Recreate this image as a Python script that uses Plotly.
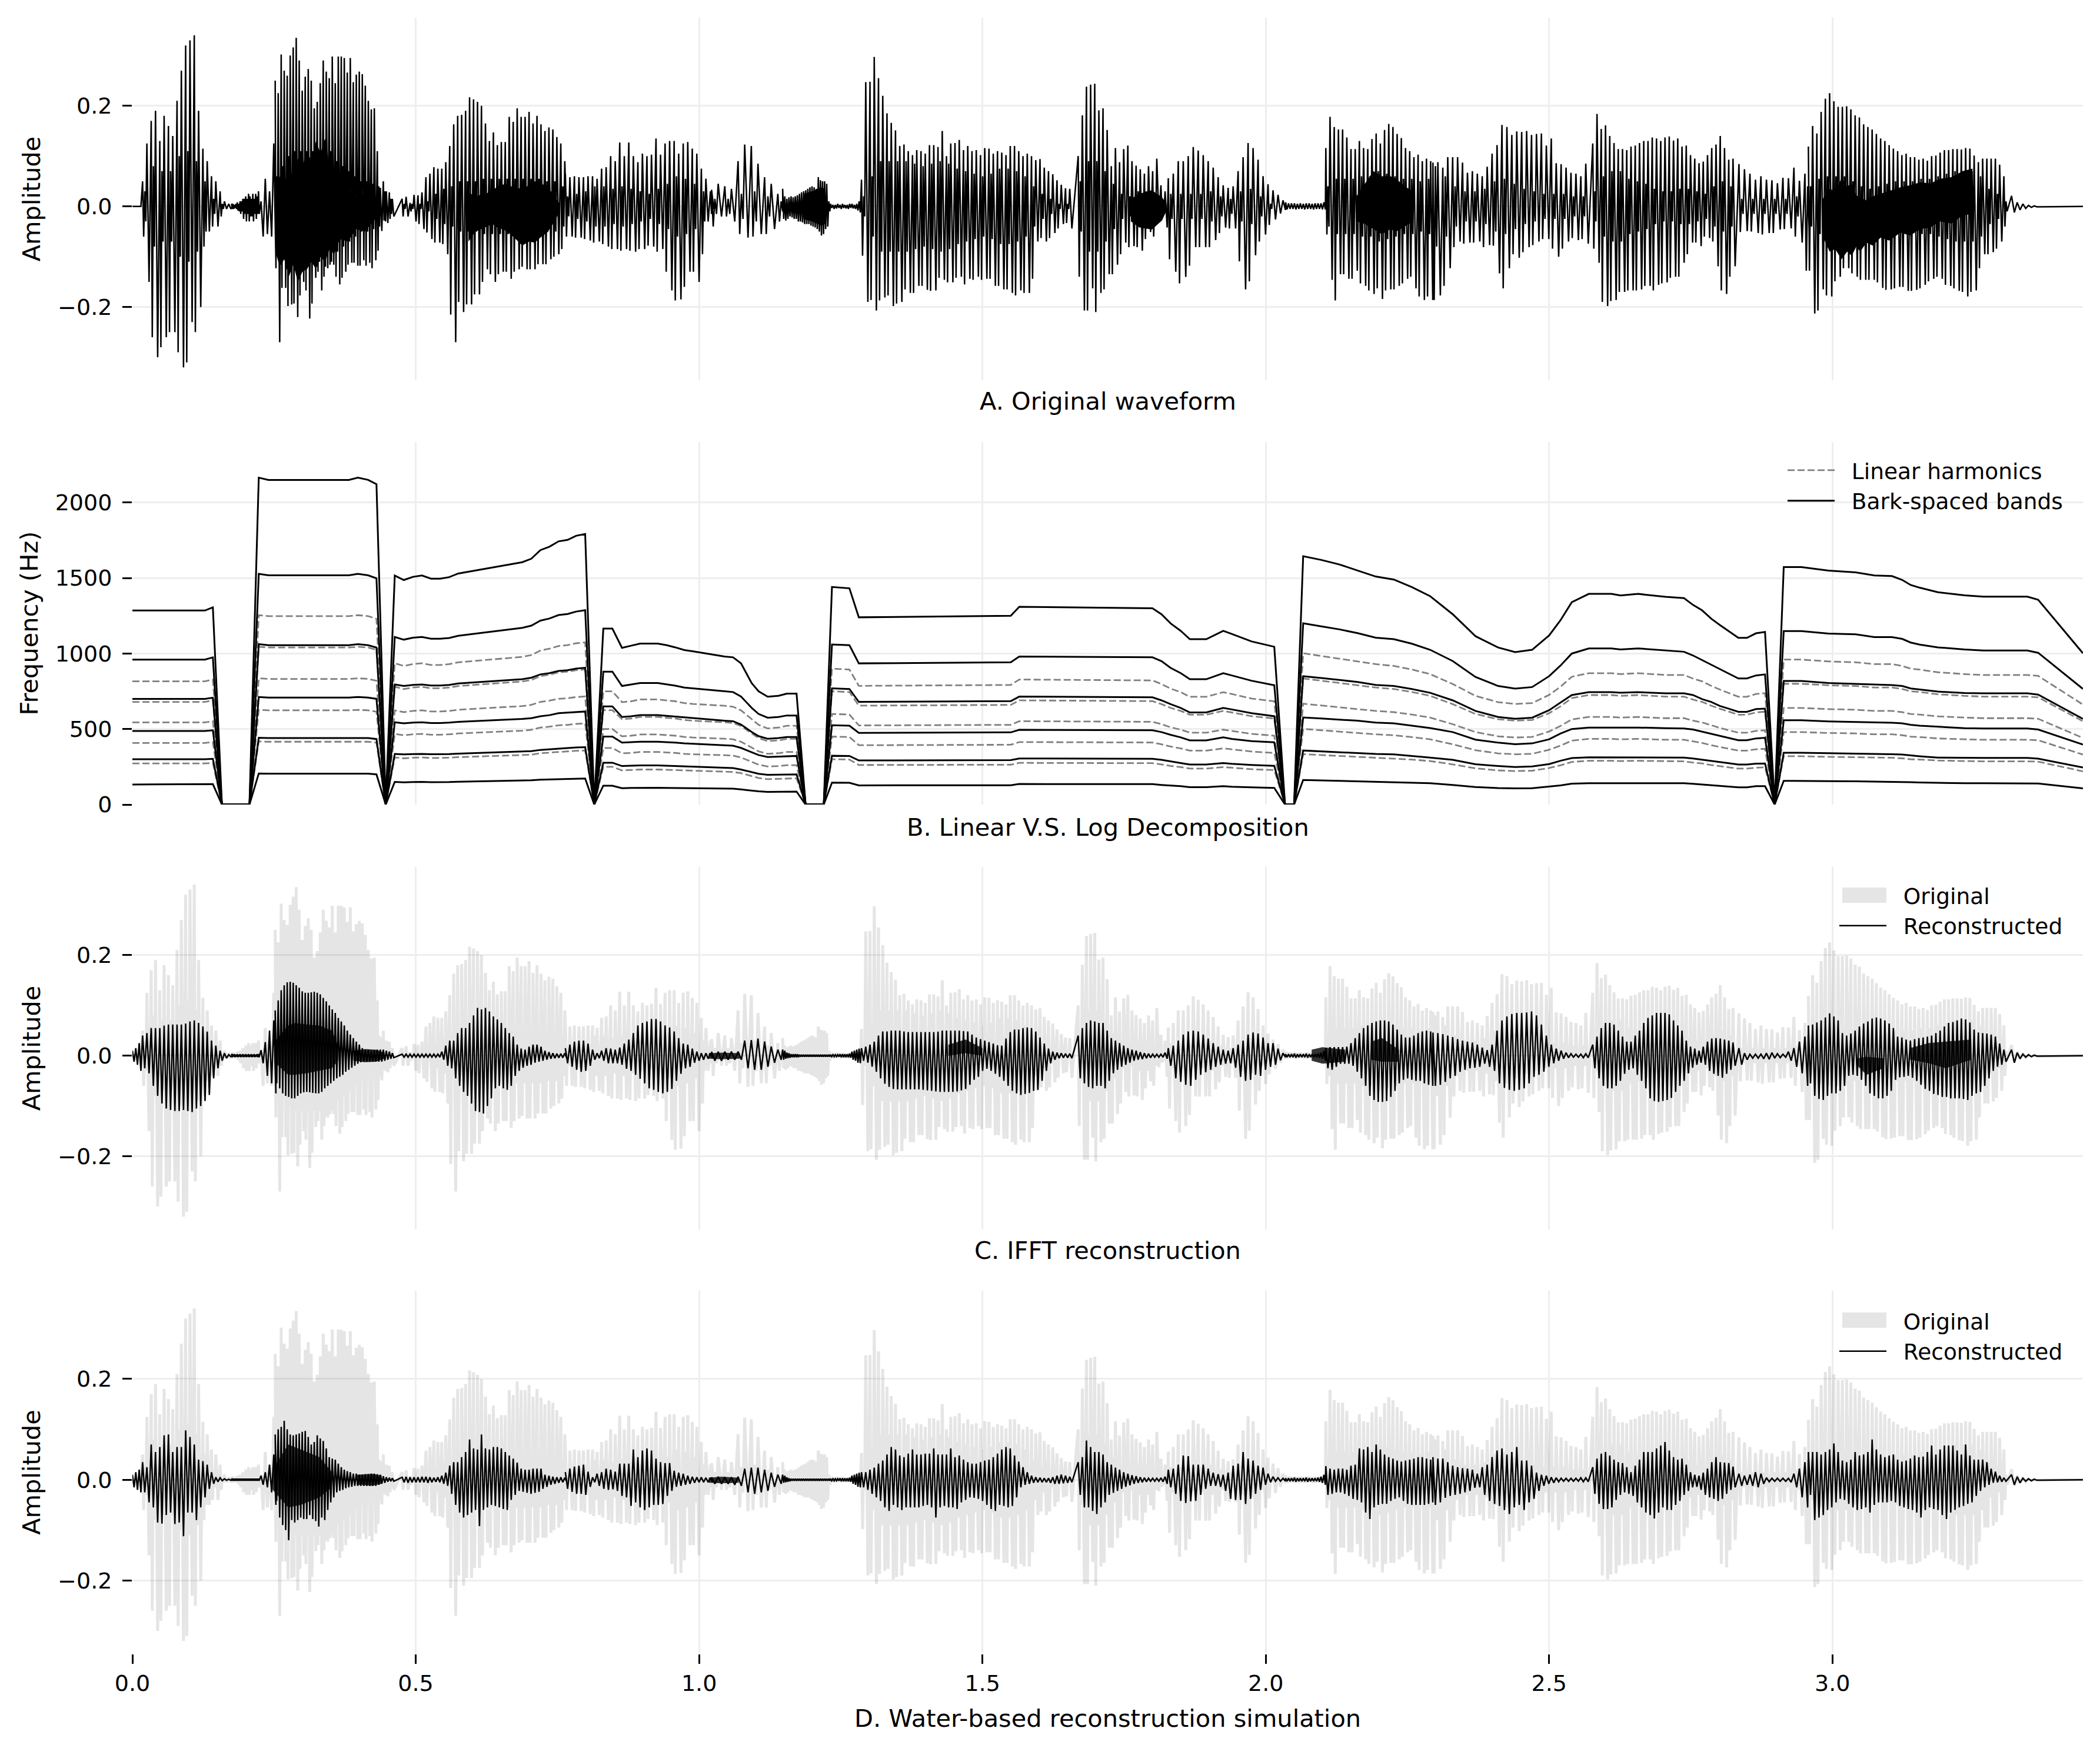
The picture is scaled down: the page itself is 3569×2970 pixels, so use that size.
import plotly.graph_objects as go

# time base of the voiced stretches, one (start, period) per stretch
burst_start = [0, .018, .175, .227, .252, .476, .764, 1.022, 1.1475, 1.232, 1.2866, 1.669, 1.828, 2.035, 2.106, 2.295, 2.577, 2.835, 2.9575, 3.316]
burst_step = [.006, .0076, .0025, .0075, .0053, .007, .008, .0117, .0037, .0042, .0075, .0073, .0088, .0052, .0074, .0087, .0075, .0097, .0075, .01]

# amplitudes, in thousandths
a_top = [
    [0, 0, 0],
    [50, 125, 170, 190, 130, 180, 160, 140, 210, 270, 320, 330, 340, 190, 115, 90, 60, 50, 30, 10, 5, 3],
    [5, 5, 3, 5, 8, 5, 10, 10, 15, 15, 20, 15, 25, 20, 15, 25, 15, 25, 20, 30],
    [10, 55, 30, 125],
    [250, 225, 302, 270, 260, 300, 316, 335, 290, 230, 258, 273, 250, 195, 208, 245, 290, 268, 255, 298, 245, 298, 298, 295, 266, 295, 247, 262, 268, 263, 240, 210, 193, 195, 110, 37, 50, 30, 28, 15],
    [15, 19, 7, 23, 22, 28, 58, 65, 78, 75, 75, 88, 120, 163, 180, 182, 190, 217, 213, 208, 200, 165, 130, 147, 122, 128, 128, 178, 168, 195, 178, 178, 188, 165, 180, 163, 150, 157, 153, 138, 125, 90],
    [65, 58, 60, 58, 58, 60, 60, 55, 75, 78, 100, 90, 127, 100, 127, 100, 88, 105, 100, 103, 135, 103, 125, 130, 130, 105, 125, 128, 115, 105, 75, 55, 30],
    [33, 45, 40, 35, 90, 123, 120, 85, 58, 45, 25],
    [35, 20, 15, 18, 20, 18, 20, 22, 25, 28, 30, 32, 35, 38, 40, 38, 35, 58, 52, 50, 50, 45, 10],
    [5, 3, 3, 5, 3, 5, 3, 3, 5, 5, 3, 5, 10],
    [53, 247, 248, 297, 255, 220, 185, 166, 151, 120, 123, 110, 102, 112, 110, 105, 122, 122, 118, 150, 100, 125, 126, 132, 112, 120, 110, 112, 102, 116, 115, 105, 110, 107, 102, 120, 120, 110, 100, 105, 100, 92, 94, 77, 70, 64, 52, 43, 36, 35],
    [100, 181, 238, 242, 244, 191, 195, 152, 80, 116, 88, 114, 121, 90, 81, 74, 65, 80, 70, 95, 42, 30],
    [56, 65, 90, 90, 100, 118, 111, 102, 90, 77, 58, 42, 37, 40, 70, 98, 126, 116, 93, 60, 44, 32, 23, 12],
    [8, 6, 6, 6, 5, 6, 5, 6, 6, 5, 6, 6, 6, 8],
    [116, 178, 158, 153, 153, 137, 114, 114, 130, 116, 114, 134, 145, 125, 152, 164, 158, 144, 136, 116, 110, 98, 103, 90, 95, 90],
    [87, 88, 77, 98, 98, 98, 87, 67, 70, 65, 60, 79, 105, 122, 162, 158, 142, 149, 148, 150, 142, 144, 145, 121, 135, 86, 84, 77, 67, 65, 60, 85],
    [125, 184, 154, 161, 140, 126, 114, 114, 112, 119, 121, 126, 130, 130, 137, 135, 130, 137, 139, 131, 135, 119, 121, 102, 95, 86, 89, 102, 116, 123, 140, 116, 93, 95],
    [84, 74, 65, 53, 60, 53, 52, 46, 57, 56, 77, 51, 65],
    [119, 160, 145, 188, 214, 225, 209, 198, 198, 199, 193, 181, 177, 163, 158, 153, 144, 135, 130, 122, 115, 110, 102, 105, 98, 98, 93, 95, 91, 100, 101, 107, 112, 112, 114, 114, 113, 116, 115, 101, 88, 95, 95, 95, 95, 83, 60],
    [21, 8, 5, 2, 1],
]
a_bot = [
    [0, 0, 0],
    [-60, -150, -260, -300, -280, -260, -250, -250, -290, -320, -310, -230, -250, -200, -80, -50, -40, -40, -20, -5, -5, -3],
    [-5, -5, -3, -5, -8, -10, -15, -10, -25, -15, -30, -15, -30, -20, -20, -30, -15, -25, -15, -15],
    [-60, -55, -60, -110],
    [-123, -270, -162, -162, -198, -195, -193, -220, -177, -150, -167, -223, -193, -142, -130, -167, -140, -123, -116, -116, -140, -155, -142, -130, -116, -112, -112, -118, -118, -107, -118, -112, -123, -107, -88, -49, -28, -33, -25, -20],
    [-20, -20, -10, -30, -35, -45, -52, -65, -72, -72, -75, -95, -215, -270, -190, -210, -195, -195, -175, -175, -150, -125, -135, -150, -135, -130, -130, -144, -130, -125, -120, -125, -125, -125, -115, -115, -115, -105, -100, -95, -85, -40],
    [-60, -60, -62, -62, -65, -68, -72, -70, -75, -80, -85, -85, -88, -85, -88, -90, -85, -85, -78, -80, -90, -85, -130, -167, -187, -185, -160, -130, -130, -150, -95, -30, -15],
    [-40, -20, -20, -30, -55, -62, -60, -55, -55, -45, -30],
    [-25, -28, -25, -20, -22, -25, -25, -30, -30, -32, -35, -35, -35, -38, -40, -42, -45, -50, -58, -55, -45, -40, -10],
    [-3, -5, -4, -3, -5, -3, -4, -5, -3, -4, -5, -8, -12],
    [-98, -190, -186, -207, -187, -181, -177, -198, -193, -190, -165, -172, -172, -158, -158, -166, -168, -167, -142, -146, -151, -151, -142, -140, -155, -144, -146, -140, -146, -144, -144, -158, -158, -165, -165, -172, -177, -167, -172, -172, -144, -70, -63, -70, -63, -53, -44, -35, -33, -44],
    [-140, -207, -207, -163, -210, -172, -165, -135, -135, -116, -95, -72, -81, -79, -81, -88, -65, -51, -60, -23, -14, -42],
    [-105, -130, -153, -140, -118, -81, -81, -81, -81, -67, -53, -42, -44, -44, -109, -165, -149, -97, -70, -56, -37, -26, -14, -7],
    [-6, -5, -5, -6, -5, -5, -6, -5, -5, -6, -5, -5, -6, -6],
    [-56, -146, -187, -135, -135, -144, -144, -128, -153, -158, -167, -174, -163, -184, -167, -165, -165, -158, -153, -144, -140, -163, -179, -186, -179, -186],
    [-186, -177, -158, -123, -81, -70, -74, -72, -72, -70, -81, -77, -78, -133, -163, -123, -95, -102, -91, -81, -77, -70, -65, -65, -84, -100, -84, -70, -63, -67, -65, -74],
    [-84, -112, -190, -198, -188, -186, -170, -170, -167, -167, -167, -165, -158, -158, -167, -156, -153, -151, -142, -140, -140, -112, -95, -72, -72, -79, -60, -63, -70, -119, -167, -174, -140, -119],
    [-51, -49, -50, -53, -56, -53, -53, -46, -45, -44, -60, -72, -128],
    [-128, -213, -207, -165, -177, -179, -149, -140, -123, -123, -133, -140, -146, -146, -146, -146, -151, -162, -166, -165, -163, -160, -160, -168, -168, -166, -163, -156, -149, -144, -140, -144, -156, -158, -163, -168, -170, -179, -170, -167, -123, -95, -95, -91, -84, -70, -40],
    [-12, -7, -4, -2, -1],
]
a_mid = [
    [],
    [30, 60, 80, 90, 70, 80, 70, 90, 100, 110, 110, 100, 90, 70, 50, 30, 15, 10, 5],
    [],
    [],
    [60, 70, 80, 90, 100, 110, 110, 110, 110, 110, 110, 110, 110, 110, 110, 120, 120, 120, 110, 100, 90, 90, 80, 80, 70, 70, 60, 60, 50, 50, 50, 50, 45, 40, 40, 35, 30, 25, 15, 10],
    [5, 5, 5, 5, 5, 5, 10, 20, 25, 30, 35, 40, 40, 45, 50, 50, 50, 50, 50, 55, 55, 55, 55, 55, 55, 55, 55, 55, 55, 55, 55, 55, 55, 55, 55, 50, 50, 50, 50, 45, 40, 15],
    [20, 20, 25, 30, 30, 35, 40, 40, 40, 40, 35, 35, 40, 30, 35, 30, 30, 25, 25, 30, 35, 35, 45, 50, 60, 60, 55, 50, 45, 40, 30, 15, 5],
    [15, 15, 15, 15, 25, 30, 30, 25, 20, 15, 10],
    [],
    [],
    [20, 40, 60, 80, 90, 90, 90, 85, 90, 90, 90, 90, 85, 85, 80, 85, 85, 85, 90, 90, 85, 80, 75, 75, 70, 65, 65, 60, 60, 60, 65, 70, 75, 75, 75, 75, 70, 65, 60, 55, 40, 30, 25, 20, 15, 10, 5, 5, 5, 5],
    [50, 80, 90, 95, 90, 80, 70, 60, 45, 30, 25, 20, 20, 25, 30, 30, 30, 25, 20, 15, 10, 10],
    [25, 25, 25, 25, 25, 25, 25, 30, 30, 25, 20, 15, 15, 15, 30, 35, 35, 30, 20, 10, 5],
    [],
    [40, 50, 55, 55, 55, 55, 55, 55, 60, 60, 60, 65, 70, 70, 65, 60, 60, 55, 55, 55, 55, 50, 50, 50, 55, 60],
    [80, 70, 60, 45, 40, 35, 30, 25, 30, 30, 35, 45, 50, 55, 55, 45, 45, 40, 35, 30, 30, 25, 25, 25, 25, 25, 25, 20, 20, 20, 20, 25],
    [30, 40, 60, 70, 70, 70, 70, 65, 55, 50, 50, 45, 45, 40, 35, 35, 30, 30, 30, 30, 35, 40, 35, 30, 30, 30, 25, 30, 40, 50, 50, 45, 40, 35],
    [15, 15, 15, 15, 15, 15, 15, 15, 15, 15, 20, 30, 40],
    [40, 50, 55, 60, 60, 60, 60, 60, 60, 55, 50, 45, 40, 35, 35, 35, 40, 40, 45, 45, 50, 50, 50, 50, 50, 55, 55, 55, 55, 55, 60, 60, 65, 65, 70, 70, 70, 70, 70, 75, 60, 40, 35, 30, 25, 15, 10],
    [],
]
# solid dark parts of each waveform: time, upper edge, lower edge
a_core_t = [[.2525, .26, .268, .276, .284, .292, .3, .308, .316, .324, .332, .34, .348, .356, .366, .38, .395, .41, .425, .435],
            [.593, .605, .622, .635, .644, .659, .672, .688, .7, .71, .722, .732, .745, .754],
            [1.184, 1.2, 1.215, 1.223],
            [1.762, 1.777, 1.799, 1.817, 1.825],
            [2.16, 2.175, 2.19, 2.205, 2.22, 2.23, 2.245, 2.26],
            [2.983, 2.995, 3.005, 3.016, 3.026, 3.034, 3.042, 3.049, 3.06, 3.071, 3.085, 3.1, 3.12, 3.137, 3.155, 3.173, 3.19, 3.21, 3.23, 3.247]]
a_core_top = [[30, 60, 45, 75, 60, 95, 80, 110, 90, 130, 105, 135, 80, 45, 30, 35, 20, 25, 10, 12],
              [28, 20, 25, 30, 40, 45, 38, 35, 42, 50, 45, 40, 20, 5],
              [25, 30, 38, 35],
              [15, 25, 32, 18, 5],
              [20, 45, 70, 60, 60, 55, 40, 30],
              [15, 35, 30, 56, 40, 45, 22, 18, 12, 20, 25, 30, 38, 42, 48, 46, 55, 58, 70, 75]]
a_core_bot = [[-90, -120, -105, -140, -115, -150, -130, -125, -110, -125, -100, -110, -85, -95, -65, -70, -45, -50, -30, -20],
              [-70, -50, -42, -35, -42, -48, -60, -78, -70, -72, -60, -52, -30, -10],
              [-25, -30, -38, -35],
              [-30, -42, -46, -28, -8],
              [-30, -35, -45, -55, -45, -50, -40, -30],
              [-60, -90, -85, -105, -90, -98, -80, -90, -72, -78, -62, -68, -52, -58, -45, -42, -30, -34, -18, -15]]

c_top = [
    [10, 15, 25],
    [40, 45, 55, 55, 55, 60, 62, 62, 62, 62, 64, 68, 70, 65, 58, 48, 30, 20, 10, 5, 2, 1],
    [3, 2, 3, 2, 3, 2, 3, 2, 3, 2, 3, 2, 3, 2, 3, 2, 3, 2, 3, 3],
    [11, 27, 50, 70],
    [90, 110, 130, 140, 146, 147, 145, 140, 135, 128, 125, 125, 126, 127, 125, 122, 115, 108, 100, 92, 85, 75, 68, 60, 50, 42, 35, 28, 22, 15, 12, 12, 10, 11, 12, 12, 12, 10, 8, 5],
    [3, 3, 3, 3, 3, 3, 3, 3, 3, 3, 8, 20, 30, 30, 45, 55, 55, 65, 80, 95, 92, 95, 88, 78, 72, 65, 55, 45, 38, 22, 14, 12, 18, 22, 22, 18, 10, 7, 5, 4, 4, 5],
    [15, 22, 28, 30, 30, 24, 12, 5, 10, 15, 14, 12, 16, 24, 32, 45, 60, 65, 68, 73, 73, 68, 60, 56, 48, 35, 24, 22, 14, 8, 5, 5, 5],
    [8, 8, 8, 8, 8, 30, 31, 34, 28, 18, 12],
    [12, 10, 6, 5, 3, 3, 3, 3, 2, 2, 2, 2, 2, 2, 2, 2, 2, 2, 2, 2, 2, 2, 2],
    [2, 2, 2, 2, 3, 3, 3, 3, 4, 8, 10, 12, 14],
    [15, 18, 22, 28, 40, 48, 48, 50, 50, 50, 48, 47, 47, 47, 47, 47, 47, 47, 48, 50, 50, 50, 50, 50, 49, 48, 42, 36, 33, 30, 27, 24, 21, 20, 34, 47, 52, 52, 55, 56, 55, 48, 36, 24, 14, 8, 6, 5, 4, 4],
    [40, 55, 65, 70, 68, 65, 65, 50, 35, 30, 25, 20, 15, 12, 10, 7, 5, 4, 3, 3, 3, 6],
    [15, 20, 30, 42, 48, 50, 48, 42, 34, 25, 18, 12, 10, 15, 22, 30, 42, 46, 44, 36, 25, 25, 14, 5],
    [3, 3, 3, 4, 3, 3, 3, 4, 3, 3, 3, 4, 6, 10],
    [15, 17, 17, 17, 17, 18, 25, 35, 45, 55, 60, 65, 68, 70, 70, 68, 62, 52, 42, 36, 36, 40, 45, 48, 50, 48],
    [46, 45, 43, 40, 37, 33, 30, 28, 26, 22, 16, 11, 22, 50, 70, 78, 83, 85, 85, 86, 88, 80, 62, 40, 22, 14, 10, 6, 4, 3, 3, 4],
    [22, 38, 55, 65, 65, 62, 50, 38, 28, 28, 40, 50, 65, 75, 80, 85, 85, 85, 82, 70, 60, 50, 30, 18, 14, 10, 18, 28, 34, 35, 34, 32, 30, 26],
    [15, 5, 3, 3, 3, 5, 6, 4, 3, 8, 15, 28, 38],
    [60, 62, 66, 70, 76, 84, 78, 70, 45, 40, 44, 50, 58, 64, 68, 74, 76, 74, 70, 64, 55, 38, 36, 32, 30, 33, 35, 36, 38, 40, 45, 50, 58, 65, 67, 70, 74, 72, 66, 52, 46, 45, 44, 42, 38, 24, 12],
    [12, 6, 3, 2, 1],
]
c_bot = [
    [-12, -18, -30],
    [-25, -35, -60, -80, -95, -105, -108, -110, -110, -108, -110, -112, -105, -100, -90, -78, -45, -25, -10, -5, -2, -1],
    [-3, -2, -3, -2, -3, -2, -3, -2, -3, -2, -3, -2, -3, -2, -3, -2, -3, -2, -3, -3],
    [-15, -40, -55, -75],
    [-55, -65, -75, -80, -82, -85, -85, -80, -75, -73, -72, -73, -74, -75, -75, -72, -65, -60, -55, -50, -45, -42, -38, -32, -28, -24, -20, -16, -13, -12, -12, -12, -12, -12, -12, -12, -10, -8, -6, -4],
    [-3, -3, -3, -3, -3, -3, -3, -3, -3, -3, -8, -20, -25, -45, -60, -72, -80, -95, -110, -112, -115, -100, -85, -65, -60, -65, -68, -60, -40, -30, -24, -20, -18, -14, -12, -10, -8, -6, -5, -4, -4, -5],
    [-15, -22, -28, -32, -30, -20, -8, -5, -10, -15, -15, -15, -18, -26, -30, -38, -46, -55, -65, -68, -72, -75, -72, -66, -50, -36, -25, -22, -14, -10, -8, -6, -5],
    [-10, -10, -8, -8, -8, -25, -28, -28, -22, -14, -8],
    [-8, -6, -5, -4, -3, -3, -3, -3, -2, -2, -2, -2, -2, -2, -2, -2, -2, -2, -2, -2, -2, -2, -2],
    [-2, -2, -2, -2, -3, -3, -3, -3, -4, -8, -10, -14, -15],
    [-10, -14, -22, -32, -45, -56, -62, -66, -67, -67, -67, -67, -67, -67, -68, -69, -70, -71, -72, -72, -72, -72, -71, -69, -66, -58, -48, -42, -30, -26, -30, -36, -42, -50, -60, -70, -75, -78, -76, -74, -70, -68, -50, -30, -15, -8, -5, -4, -4, -5],
    [-45, -55, -62, -65, -60, -60, -65, -50, -35, -28, -22, -18, -14, -10, -8, -7, -5, -4, -3, -3, -3, -6],
    [-20, -45, -52, -58, -60, -48, -38, -33, -28, -22, -18, -16, -15, -24, -42, -50, -48, -38, -40, -28, -22, -18, -9, -3],
    [-3, -3, -3, -4, -3, -3, -3, -4, -3, -3, -3, -4, -6, -10],
    [-25, -28, -22, -16, -16, -16, -20, -32, -45, -60, -80, -88, -92, -92, -90, -82, -70, -55, -48, -45, -48, -50, -50, -55, -58, -60],
    [-60, -58, -52, -45, -40, -32, -28, -25, -24, -22, -16, -22, -30, -55, -64, -68, -70, -68, -65, -55, -42, -38, -32, -22, -15, -10, -6, -4, -3, -3, -4, -4],
    [-25, -45, -60, -65, -65, -60, -50, -36, -28, -25, -38, -50, -65, -85, -90, -92, -90, -88, -84, -72, -60, -50, -35, -24, -18, -14, -18, -30, -36, -40, -44, -36, -28, -20],
    [-18, -8, -5, -5, -6, -7, -5, -4, -3, -10, -22, -35, -60],
    [-55, -80, -86, -88, -80, -75, -75, -70, -60, -40, -38, -40, -48, -60, -75, -80, -85, -85, -80, -70, -48, -43, -42, -40, -44, -50, -58, -66, -70, -76, -78, -82, -82, -85, -85, -85, -86, -88, -80, -75, -72, -60, -45, -30, -22, -18, -12],
    [-14, -6, -3, -2, -1],
]
c_core_t = [[.253, .275, .286, .308, .33, .352, .363], [.39, .41, .43, .445], [1.017, 1.04, 1.072], [1.44, 1.47, 1.5], [2.081, 2.1, 2.14], [2.186, 2.205, 2.235], [3.044, 3.06, 3.09], [3.137, 3.17, 3.2, 3.245]]
c_core_top = [[30, 60, 65, 62, 60, 50, 20], [10, 13, 12, 6], [5, 6, 5], [22, 32, 15], [12, 17, 12], [28, 35, 12], [-5, -2, -5], [15, 25, 28, 32]]
c_core_bot = [[-15, -38, -38, -35, -30, -25, -10], [-10, -13, -12, -6], [-6, -7, -6], [0, 5, 0], [-10, -16, -12], [-8, -12, -12], [-20, -38, -25], [-8, -15, -25, -8]]

d_top = [
    [10, 15, 20],
    [35, 25, 70, 55, 65, 88, 90, 55, 65, 65, 98, 85, 70, 40, 37, 30, 15, 5, 4, 2, 1, 1],
    [2, 2, 2, 2, 2, 2, 2, 2, 2, 2, 2, 2, 2, 2, 2, 2, 2, 2, 2, 2],
    [8, 15, 30, 50],
    [90, 100, 105, 117, 100, 90, 88, 90, 92, 95, 97, 85, 70, 75, 88, 82, 77, 62, 45, 42, 40, 32, 25, 20, 17, 15, 12, 12, 10, 10, 11, 11, 12, 12, 11, 10, 7, 5, 4, 3],
    [5, 6, 5, 5, 5, 6, 6, 5, 4, 5, 8, 14, 28, 35, 35, 45, 55, 80, 62, 60, 90, 62, 60, 65, 65, 62, 55, 48, 42, 34, 22, 20, 20, 22, 22, 22, 10, 8, 6, 5, 5, 4],
    [15, 22, 26, 28, 30, 16, 5, 12, 15, 22, 20, 16, 32, 32, 32, 60, 45, 58, 62, 58, 42, 35, 33, 33, 18, 14, 12, 8, 6, 5, 5, 4, 4],
    [5, 6, 5, 5, 6, 22, 24, 24, 20, 14, 10],
    [10, 8, 5, 3, 2, 2, 2, 2, 2, 2, 2, 2, 2, 2, 2, 2, 2, 2, 2, 2, 2, 2, 2],
    [2, 2, 2, 2, 3, 3, 3, 3, 4, 8, 10, 12, 14],
    [15, 15, 20, 24, 32, 38, 50, 65, 60, 48, 45, 52, 60, 50, 50, 52, 52, 62, 50, 50, 50, 62, 45, 48, 40, 35, 32, 32, 35, 38, 40, 45, 52, 60, 65, 62, 48, 36, 25, 15, 8, 5, 4, 3, 3, 5, 8, 10, 8, 6],
    [35, 45, 78, 65, 55, 55, 50, 35, 30, 24, 20, 15, 12, 9, 7, 5, 4, 3, 3, 3, 4, 6],
    [20, 22, 30, 48, 47, 30, 30, 30, 22, 14, 11, 10, 14, 28, 32, 55, 42, 38, 28, 24, 12, 6, 4, 3],
    [3, 3, 3, 4, 3, 3, 3, 4, 3, 3, 3, 4, 6, 10],
    [27, 22, 20, 22, 22, 20, 28, 30, 62, 60, 65, 55, 70, 60, 50, 45, 42, 38, 36, 38, 40, 42, 45, 45, 42, 40],
    [45, 42, 42, 35, 28, 25, 23, 22, 20, 12, 25, 30, 45, 58, 62, 50, 55, 65, 38, 38, 28, 14, 10, 8, 5, 4, 3, 3, 3, 3, 4, 4],
    [25, 42, 52, 55, 48, 40, 35, 33, 25, 15, 28, 40, 55, 55, 55, 62, 68, 75, 58, 45, 40, 42, 30, 15, 10, 8, 14, 22, 35, 45, 35, 34, 33, 26],
    [12, 8, 10, 15, 12, 4, 3, 3, 3, 3, 12, 22, 35],
    [55, 55, 55, 50, 55, 60, 72, 55, 38, 35, 40, 55, 48, 50, 55, 80, 60, 50, 45, 48, 50, 40, 36, 38, 42, 48, 45, 46, 55, 68, 50, 60, 68, 68, 68, 58, 50, 70, 48, 40, 40, 40, 35, 22, 16, 8, 4],
    [10, 6, 3, 2, 1],
]
d_bot = [
    [-15, -20, -25],
    [-25, -45, -55, -85, -87, -70, -65, -88, -85, -112, -65, -65, -80, -55, -35, -18, -8, -4, -2, -1, -1, -1],
    [-2, -2, -2, -2, -2, -2, -2, -2, -2, -2, -2, -2, -2, -2, -2, -2, -2, -2, -2, -2],
    [-10, -15, -25, -50],
    [-42, -75, -90, -100, -120, -80, -85, -80, -75, -78, -78, -70, -78, -82, -93, -75, -80, -60, -45, -35, -25, -22, -20, -17, -15, -14, -12, -12, -12, -12, -12, -12, -12, -12, -10, -8, -6, -4, -3, -3],
    [-5, -6, -5, -5, -5, -5, -6, -5, -4, -5, -8, -12, -28, -50, -65, -75, -70, -65, -60, -92, -60, -55, -50, -52, -55, -58, -60, -40, -30, -22, -24, -26, -28, -26, -24, -18, -14, -10, -8, -6, -5, -4],
    [-18, -24, -28, -28, -30, -14, -5, -12, -18, -20, -19, -22, -32, -35, -52, -45, -55, -60, -55, -50, -50, -48, -32, -22, -14, -12, -10, -8, -6, -5, -5, -5, -5],
    [-8, -8, -8, -10, -12, -25, -28, -25, -22, -14, -8],
    [-6, -5, -4, -3, -2, -2, -2, -2, -2, -2, -2, -2, -2, -2, -2, -2, -2, -2, -2, -2, -2, -2, -2],
    [-2, -2, -2, -2, -3, -3, -3, -3, -4, -8, -10, -14, -15],
    [-15, -20, -28, -35, -42, -55, -62, -50, -55, -60, -55, -55, -55, -55, -52, -50, -55, -75, -55, -52, -55, -55, -58, -45, -40, -35, -36, -38, -42, -50, -58, -62, -50, -52, -55, -52, -35, -15, -10, -8, -6, -5, -5, -5, -6, -8, -8, -7, -6, -5],
    [-30, -55, -55, -62, -68, -55, -45, -30, -26, -22, -18, -14, -11, -8, -6, -5, -4, -3, -3, -3, -4, -8],
    [-15, -28, -42, -46, -43, -42, -30, -18, -12, -12, -14, -22, -38, -40, -40, -48, -38, -28, -20, -10, -5, -3, -3, -3],
    [-3, -3, -3, -4, -3, -3, -3, -4, -3, -3, -3, -4, -6, -10],
    [-30, -28, -25, -25, -28, -32, -38, -40, -45, -65, -78, -55, -50, -48, -48, -42, -38, -35, -42, -48, -50, -50, -50, -50, -48, -45],
    [-50, -45, -36, -32, -30, -28, -25, -22, -16, -15, -30, -42, -48, -52, -60, -68, -55, -50, -60, -45, -38, -22, -12, -8, -6, -4, -3, -3, -3, -3, -4, -4],
    [-28, -48, -58, -58, -55, -40, -30, -25, -28, -32, -45, -55, -65, -70, -77, -65, -55, -60, -60, -50, -42, -30, -22, -15, -14, -20, -30, -35, -38, -42, -38, -28, -20, -15],
    [-12, -10, -12, -15, -8, -4, -3, -3, -3, -5, -15, -35, -55],
    [-30, -80, -75, -70, -60, -55, -45, -38, -40, -48, -55, -60, -58, -55, -65, -50, -45, -45, -45, -42, -45, -52, -55, -58, -60, -65, -75, -60, -55, -58, -60, -70, -78, -65, -60, -55, -52, -48, -45, -32, -22, -15, -10, -6, -5, -4, -3],
    [-10, -6, -3, -2, -1],
]
d_core_t = [[.2475, .275, .297, .33, .352], [.396, .423, .44], [1.017, 1.04, 1.07]]
d_core_top = [[20, 70, 60, 45, 15], [10, 12, 8], [4, 6, 4]]
d_core_bot = [[-20, -55, -50, -35, -15], [-10, -12, -8], [-6, -7, -6]]

# panel B: shared frame times and the band centres in Hz
f_t = [0, .128, .142, .158, .2066, .223, .24, .382, .398, .416, .4307, .447, .463, .479, .495, .511, .527, .543, .559, .575, .688, .704, .72, .736, .752, .768, .783, .799, .815, .831, .847, .864, .88, .896, .927, .943, .958, .974, .99, 1.045, 1.06, 1.074, 1.093, 1.105, 1.121, 1.14, 1.155, 1.172, 1.188, 1.22, 1.2345, 1.2653, 1.2819, 1.55, 1.565, 1.8, 1.816, 1.832, 1.85, 1.866, 1.895, 1.925, 1.94, 1.975, 2.015, 2.034, 2.05, 2.066, 2.098, 2.13, 2.162, 2.194, 2.226, 2.258, 2.29, 2.33, 2.37, 2.41, 2.44, 2.47, 2.5, 2.52, 2.54, 2.57, 2.61, 2.626, 2.657, 2.705, 2.738, 2.754, 2.77, 2.786, 2.801, 2.817, 2.834, 2.849, 2.865, 2.881, 2.898, 2.914, 2.945, 2.993, 3.041, 3.074, 3.105, 3.123, 3.138, 3.154, 3.186, 3.233, 3.266, 3.344, 3.363, 3.442]
bark_1 = [133, 133, 135, 0, 0, 206, 205, 205, 206, 205, 200, 0, 150, 147, 149, 150, 148, 148, 149, 151, 159, 161, 165, 166, 169, 170, 171, 172, 0, 125, 125, 108, 110, 111, 111, 110, 109, 108, 107, 105, 105, 100, 92, 88, 84, 85, 86, 86, 0, 0, 145, 144, 127, 128, 136, 135, 130, 127, 122, 115, 115, 122, 118, 114, 110, 0, 0, 163, 160, 158, 154, 150, 148, 145, 141, 130, 116, 109, 107, 108, 118, 127, 138, 141, 141, 141, 141, 141, 141, 137, 133, 128, 124, 120, 114, 114, 122, 122, 0, 157, 157, 155, 154, 152, 152, 150, 148, 146, 143, 141, 141, 141, 139, 107]
bark_2 = [300, 300, 303, 0, 0, 442, 440, 440, 442, 440, 434, 0, 335, 332, 334, 335, 333, 333, 334, 337, 350, 354, 362, 366, 372, 374, 378, 380, 0, 277, 277, 255, 257, 259, 259, 257, 255, 251, 249, 243, 242, 232, 213, 204, 197, 198, 200, 200, 0, 0, 323, 322, 292, 294, 305, 303, 296, 285, 275, 265, 265, 275, 270, 262, 256, 0, 0, 358, 352, 347, 342, 335, 332, 322, 311, 296, 267, 255, 248, 252, 268, 290, 308, 313, 313, 312, 313, 311, 311, 305, 298, 290, 282, 274, 265, 265, 271, 272, 0, 343, 343, 340, 338, 335, 333, 331, 325, 320, 311, 309, 309, 309, 304, 245]
bark_3 = [487, 487, 492, 0, 0, 712, 708, 708, 712, 708, 700, 0, 545, 538, 543, 545, 540, 540, 543, 548, 567, 572, 585, 592, 605, 608, 613, 616, 0, 450, 450, 410, 413, 416, 416, 414, 410, 405, 402, 392, 390, 375, 345, 328, 315, 318, 322, 322, 0, 0, 525, 522, 475, 478, 495, 492, 480, 462, 445, 425, 425, 445, 435, 420, 412, 0, 0, 577, 570, 562, 555, 543, 538, 522, 507, 480, 430, 410, 400, 405, 432, 470, 500, 510, 510, 508, 510, 506, 504, 497, 483, 470, 455, 440, 426, 426, 438, 442, 0, 558, 558, 551, 548, 544, 542, 538, 528, 522, 515, 506, 504, 504, 497, 397]
bark_4 = [700, 700, 708, 0, 0, 1062, 1055, 1055, 1062, 1055, 1040, 0, 795, 785, 792, 795, 788, 788, 792, 802, 830, 840, 862, 870, 885, 890, 900, 906, 0, 650, 650, 580, 585, 592, 592, 587, 581, 575, 570, 555, 552, 530, 480, 453, 436, 440, 447, 447, 0, 0, 770, 765, 680, 685, 715, 710, 690, 665, 640, 610, 610, 640, 630, 605, 585, 0, 0, 850, 838, 825, 812, 792, 785, 765, 740, 690, 620, 580, 568, 575, 625, 675, 725, 744, 744, 741, 744, 737, 737, 725, 698, 680, 653, 635, 614, 614, 632, 635, 0, 819, 819, 805, 798, 793, 791, 785, 769, 762, 748, 739, 737, 737, 728, 567]
bark_5 = [960, 960, 975, 0, 0, 1528, 1518, 1518, 1528, 1518, 1498, 0, 1110, 1092, 1105, 1110, 1098, 1098, 1103, 1118, 1170, 1185, 1218, 1232, 1255, 1262, 1278, 1287, 0, 880, 880, 785, 795, 805, 805, 797, 787, 775, 770, 750, 745, 715, 640, 600, 575, 580, 590, 590, 0, 0, 1060, 1055, 935, 942, 980, 975, 950, 905, 870, 830, 830, 870, 855, 820, 790, 0, 0, 1200, 1180, 1160, 1135, 1105, 1095, 1065, 1025, 950, 845, 785, 768, 778, 850, 920, 1000, 1034, 1034, 1027, 1034, 1020, 1012, 987, 957, 925, 898, 868, 835, 835, 855, 862, 0, 1149, 1149, 1132, 1127, 1109, 1109, 1097, 1073, 1059, 1041, 1027, 1020, 1020, 1005, 766]
bark_6 = [1285, 1285, 1306, 0, 0, 2165, 2150, 2150, 2165, 2150, 2122, 0, 1517, 1487, 1508, 1517, 1496, 1496, 1506, 1530, 1605, 1628, 1685, 1708, 1743, 1753, 1780, 1792, 0, 1165, 1165, 1038, 1052, 1066, 1066, 1055, 1041, 1023, 1014, 980, 975, 935, 803, 750, 714, 720, 735, 735, 0, 0, 1441, 1432, 1240, 1250, 1310, 1300, 1260, 1200, 1150, 1095, 1095, 1150, 1130, 1080, 1045, 0, 0, 1645, 1620, 1590, 1550, 1510, 1490, 1440, 1380, 1260, 1115, 1040, 1010, 1025, 1120, 1220, 1340, 1395, 1395, 1385, 1395, 1376, 1367, 1322, 1286, 1231, 1190, 1150, 1104, 1104, 1134, 1143, 0, 1573, 1573, 1549, 1538, 1517, 1513, 1488, 1454, 1436, 1406, 1386, 1377, 1377, 1356, 1002]
harm_2 = [272, 272, 276, 0, 0, 418, 416, 416, 418, 416, 410, 0, 312, 306, 310, 312, 308, 308, 310, 314, 326, 330, 340, 344, 350, 352, 356, 358, 0, 250, 250, 226, 228, 232, 232, 230, 228, 224, 222, 218, 216, 208, 188, 176, 168, 170, 174, 174, 0, 0, 300, 298, 262, 264, 276, 274, 266, 256, 248, 238, 238, 248, 244, 234, 228, 0, 0, 334, 328, 322, 316, 310, 306, 298, 288, 266, 240, 226, 222, 224, 242, 260, 282, 290, 290, 288, 290, 286, 286, 278, 272, 262, 254, 246, 238, 238, 244, 246, 0, 320, 320, 316, 314, 310, 310, 306, 300, 298, 292, 288, 286, 286, 284, 220]
harm_3 = [408, 408, 414, 0, 0, 627, 624, 624, 627, 624, 615, 0, 468, 459, 465, 468, 462, 462, 465, 471, 489, 495, 510, 516, 525, 528, 534, 537, 0, 375, 375, 339, 342, 348, 348, 345, 342, 336, 333, 327, 324, 312, 282, 264, 252, 255, 261, 261, 0, 0, 450, 447, 393, 396, 414, 411, 399, 384, 372, 357, 357, 372, 366, 351, 342, 0, 0, 501, 492, 483, 474, 465, 459, 447, 432, 399, 360, 339, 333, 336, 363, 390, 423, 435, 435, 432, 435, 429, 429, 417, 408, 393, 381, 369, 357, 357, 366, 369, 0, 480, 480, 474, 471, 465, 465, 459, 450, 447, 438, 432, 429, 429, 426, 331]
harm_4 = [544, 544, 552, 0, 0, 836, 832, 832, 836, 832, 820, 0, 624, 612, 620, 624, 616, 616, 620, 628, 652, 660, 680, 688, 700, 704, 712, 716, 0, 500, 500, 452, 456, 464, 464, 460, 456, 448, 444, 436, 432, 416, 376, 352, 336, 340, 348, 348, 0, 0, 600, 596, 524, 528, 552, 548, 532, 512, 496, 476, 476, 496, 488, 468, 456, 0, 0, 668, 656, 644, 632, 620, 612, 596, 576, 532, 480, 452, 444, 448, 484, 520, 564, 580, 580, 576, 580, 572, 572, 556, 544, 524, 508, 492, 476, 476, 488, 492, 0, 640, 640, 632, 628, 620, 620, 612, 600, 596, 584, 576, 572, 572, 568, 441]
harm_5 = [680, 680, 690, 0, 0, 1045, 1040, 1040, 1045, 1040, 1025, 0, 780, 765, 775, 780, 770, 770, 775, 785, 815, 825, 850, 860, 875, 880, 890, 895, 0, 625, 625, 565, 570, 580, 580, 575, 570, 560, 555, 545, 540, 520, 470, 440, 420, 425, 435, 435, 0, 0, 750, 745, 655, 660, 690, 685, 665, 640, 620, 595, 595, 620, 610, 585, 570, 0, 0, 835, 820, 805, 790, 775, 765, 745, 720, 665, 600, 565, 555, 560, 605, 650, 705, 725, 725, 720, 725, 715, 715, 695, 680, 655, 635, 615, 595, 595, 610, 615, 0, 800, 800, 790, 785, 775, 775, 765, 750, 745, 730, 720, 715, 715, 710, 552]
harm_6 = [816, 816, 828, 0, 0, 1254, 1248, 1248, 1254, 1248, 1230, 0, 936, 918, 930, 936, 924, 924, 930, 942, 978, 990, 1020, 1032, 1050, 1056, 1068, 1074, 0, 750, 750, 678, 684, 696, 696, 690, 684, 672, 666, 654, 648, 624, 564, 528, 504, 510, 522, 522, 0, 0, 900, 894, 786, 792, 828, 822, 798, 768, 744, 714, 714, 744, 732, 702, 684, 0, 0, 1002, 984, 966, 948, 930, 918, 894, 864, 798, 720, 678, 666, 672, 726, 780, 846, 870, 870, 864, 870, 858, 858, 834, 816, 786, 762, 738, 714, 714, 732, 738, 0, 960, 960, 948, 942, 930, 930, 918, 900, 894, 876, 864, 858, 858, 852, 662]

x_end = 3.442
panel_titles = ["A. Original waveform", "B. Linear V.S. Log Decomposition", "C. IFFT reconstruction", "D. Water-based reconstruction simulation"]
FONT = "DejaVu Sans"
W, H = 3569, 2970
GREY = "rgba(0,0,0,0.1)"
CORE = "rgba(0,0,0,0.8)"
GAP = "\u00a0\u00a0"


def zigzag(tops, bots, mids=None):
    # one period = top peak, bottom peak; every other period also the smaller swing between pulses
    xs, ys = [0], [0]
    for s, (start, step) in enumerate(zip(burst_start, burst_step)):
        for i, (top, bot) in enumerate(zip(tops[s], bots[s])):
            t = start + i * step
            mid = mids[s][i] if mids and i < len(mids[s]) and i % 2 == 0 else 0
            if mid:
                xs += [t, t + step * .25, t + step * .5, t + step * .75]
                ys += [top / 1000, bot / 1000, mid / 1000, -mid / 1000]
            else:
                xs += [t, t + step * .5]
                ys += [top / 1000, bot / 1000]
    xs += [x_end]
    ys += [0]
    return xs, ys


def core_shape(ts, tops, bots):
    xs, ys = [], []
    for t, top, bot in zip(ts, tops, bots):
        xs += list(t) + list(reversed(t)) + [None]
        ys += [v / 1000 for v in top] + [v / 1000 for v in reversed(bot)] + [None]
    return xs, ys


fig = go.Figure()
orig_x, orig_y = zigzag(a_top, a_bot, a_mid)

# panel A
fig.add_trace(go.Scatter(x=orig_x, y=orig_y, mode="lines", line=dict(color="black", width=2.5), showlegend=False, xaxis="x", yaxis="y"))
cx, cy = core_shape(a_core_t, a_core_top, a_core_bot)
fig.add_trace(go.Scatter(x=cx, y=cy, mode="lines", fill="toself", fillcolor="black", line=dict(width=0), showlegend=False, xaxis="x", yaxis="y"))

# panel B
harm = [harm_2, harm_3, harm_4, harm_5, harm_6]
bark = [bark_1, bark_2, bark_3, bark_4, bark_5, bark_6]
for k, vals in enumerate(harm):
    fig.add_trace(go.Scatter(x=f_t, y=vals, mode="lines", line=dict(color="#808080", width=2.8, dash="12px,5px"),
                             name=GAP + "Linear harmonics", legend="legend", legendgroup="harm", showlegend=k == 0, xaxis="x2", yaxis="y2"))
for k, vals in enumerate(bark):
    fig.add_trace(go.Scatter(x=f_t, y=vals, mode="lines", line=dict(color="black", width=3),
                             name=GAP + "Bark-spaced bands", legend="legend", legendgroup="bark", showlegend=k == 0, xaxis="x2", yaxis="y2"))

# panels C and D
for ax, lg, tops, bots, core in [("3", "legend2", c_top, c_bot, (c_core_t, c_core_top, c_core_bot)),
                                 ("4", "legend3", d_top, d_bot, (d_core_t, d_core_top, d_core_bot))]:
    fig.add_trace(go.Scatter(x=orig_x, y=orig_y, mode="lines", line=dict(color=GREY, width=5), showlegend=False, xaxis="x" + ax, yaxis="y" + ax))
    # legend entry only, its swatch is the patch drawn below
    fig.add_trace(go.Scatter(x=[None], y=[None], mode="lines", line=dict(color="rgba(0,0,0,0)", width=1), name=GAP + "Original",
                             legend=lg, legendgroup="orig", xaxis="x" + ax, yaxis="y" + ax))
    rx, ry = zigzag(tops, bots)
    fig.add_trace(go.Scatter(x=rx, y=ry, mode="lines", line=dict(color="black", width=2.5), name=GAP + "Reconstructed",
                             legend=lg, legendgroup="rec", xaxis="x" + ax, yaxis="y" + ax))
    cx, cy = core_shape(*core)
    fig.add_trace(go.Scatter(x=cx, y=cy, mode="lines", fill="toself", fillcolor=CORE, line=dict(width=0), showlegend=False, xaxis="x" + ax, yaxis="y" + ax))

tick_font = dict(family=FONT, size=38, color="black")
grid = dict(showgrid=True, gridcolor="#eeeeee", gridwidth=3, zeroline=False, showline=False, automargin=False)


def y_dom(top, bot):
    return [1 - bot / H, 1 - top / H]


x_dom = [225 / W, 3540 / W]
x_common = dict(domain=x_dom, range=[0, x_end], tickvals=[0, .5, 1, 1.5, 2, 2.5, 3], **grid)
title_font = dict(family=FONT, size=41.5, color="black")
amp = dict(range=[-.3455, .3752], tickvals=[-.2, 0, .2], tickformat=".1f", ticks="outside", ticklen=16, tickwidth=3,
           tickcolor="black", tickfont=tick_font, ticklabelstandoff=10, title=dict(text="Amplitude", font=title_font, standoff=16), **grid)

legend_common = dict(font=dict(family=FONT, size=37.5, color="black"), bgcolor="rgba(0,0,0,0)", itemwidth=80,
                     xanchor="right", yanchor="top", tracegroupgap=13, x=3511 / W, traceorder="normal")

fig.update_layout(
    width=W, height=H, margin=dict(l=0, r=0, t=0, b=0), paper_bgcolor="white", plot_bgcolor="white",
    font=dict(family=FONT, color="black"),
    xaxis=dict(showticklabels=False, ticks="", anchor="y", **x_common),
    xaxis2=dict(showticklabels=False, ticks="", anchor="y2", **x_common),
    xaxis3=dict(showticklabels=False, ticks="", anchor="y3", **x_common),
    xaxis4=dict(ticks="outside", ticklen=16, tickwidth=3, tickcolor="black", tickfont=tick_font, tickformat=".1f", anchor="y4", **x_common),
    yaxis=dict(domain=y_dom(30, 646), anchor="x", **amp),
    yaxis2=dict(domain=y_dom(751, 1367), anchor="x2", range=[0, 2401], tickvals=[0, 500, 1000, 1500, 2000], ticks="outside", ticklen=16, tickwidth=3,
                tickcolor="black", tickfont=tick_font, ticklabelstandoff=10, title=dict(text="Frequency (Hz)", font=title_font, standoff=16), **grid),
    yaxis3=dict(domain=y_dom(1473, 2089), anchor="x3", **amp),
    yaxis4=dict(domain=y_dom(2193, 2810), anchor="x4", **amp),
    legend=dict(y=1 - 768 / H, **legend_common),
    legend2=dict(y=1 - 1490 / H, **legend_common),
    legend3=dict(y=1 - 2213 / H, **legend_common),
)

for title, py in zip(panel_titles, [681, 1405, 2124, 2919]):
    fig.add_annotation(text=title, xref="paper", yref="paper", x=(225 + 3540) / 2 / W, y=1 - py / H, xanchor="center", yanchor="middle",
                       showarrow=False, font=dict(family=FONT, size=41.5, color="black"))

# "Original" legend patches
for py in [1521, 2243]:
    fig.add_shape(type="rect", xref="paper", yref="paper", x0=3131 / W, x1=3206 / W, y0=1 - (py + 13) / H, y1=1 - (py - 13) / H,
                  fillcolor=GREY, line=dict(width=0), layer="above")

fig.write_html("out.html", post_script="document.body.style.margin='0';", config={"displayModeBar": False})
